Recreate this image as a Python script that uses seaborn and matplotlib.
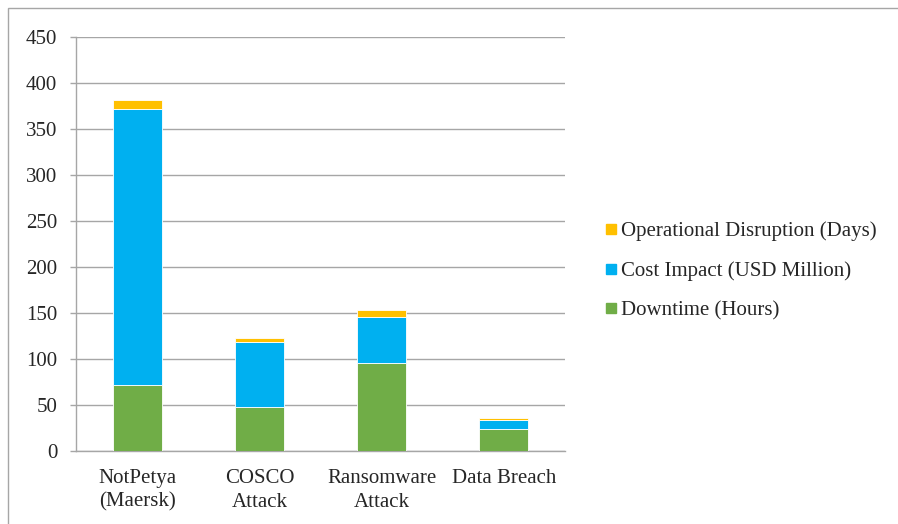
import matplotlib
matplotlib.use("Agg")
import matplotlib.pyplot as plt
from matplotlib.patches import Rectangle
from matplotlib.lines import Line2D
import numpy as np
import pandas as pd
import seaborn as sns

categories = ["NotPetya\n(Maersk)", "COSCO\nAttack", "Ransomware\nAttack", "Data Breach"]
downtime_hours = [72, 48, 96, 24]
cost_usd_million = [300, 70, 50, 10]
disruption_days = [10, 5, 7, 2]

series_names = ["Downtime (Hours)", "Cost Impact (USD Million)", "Operational Disruption (Days)"]
series_values = [downtime_hours, cost_usd_million, disruption_days]
series_colors = ["#70AD47", "#00B0F0", "#FFC000"]

sns.set_theme(style="white")
plt.rcParams["font.family"] = ["Liberation Serif", "DejaVu Serif"]

fig = plt.figure(figsize=(8.98, 5.24), dpi=100)
ax = fig.add_axes([76 / 898, 1 - 451 / 524, (565 - 76) / 898, (451 - 37) / 524])

grid_color = "#a6a6a6"
bottom = np.zeros(len(categories))
for name, vals, col in zip(series_names, series_values, series_colors):
    df = pd.DataFrame({"cat": categories, "val": vals})
    sns.barplot(data=df, x="cat", y="val", ax=ax, color=col, width=0.4,
                bottom=bottom, edgecolor="white", linewidth=0.6, saturation=1,
                zorder=3)
    bottom = bottom + np.array(vals)

ax.set_xlim(-0.5, len(categories) - 0.5)
ax.set_ylim(0, 450)
ax.set_yticks(np.arange(0, 451, 50))
ax.yaxis.grid(True, color=grid_color, linewidth=1.0, zorder=0)
ax.set_axisbelow(True)
ax.set_xlabel("")
ax.set_ylabel("")

for side in ["top", "right"]:
    ax.spines[side].set_visible(False)
for side in ["left", "bottom"]:
    ax.spines[side].set_color(grid_color)
    ax.spines[side].set_linewidth(1.0)

# category ticks sit on the boundaries between groups
ax.set_xticks(np.arange(len(categories)))
ax.set_xticklabels(categories, fontsize=15, linespacing=1.32)
ax.tick_params(axis="x", length=0, pad=13)
ax.set_xticks(np.arange(0.5, len(categories) - 0.5, 1), minor=True)
ax.tick_params(axis="x", which="minor", length=4.5, width=1, color=grid_color, direction="out")
ax.tick_params(axis="y", length=4.5, width=1, color=grid_color, direction="out",
               labelsize=15, pad=9, left=True)

handles = [Line2D([0], [0], marker="s", linestyle="none", markersize=7.5,
                  markerfacecolor=c, markeredgecolor=c) for c in series_colors]
leg = fig.legend(handles[::-1], series_names[::-1], loc="center left",
                 bbox_to_anchor=(596 / 898, 1 - 271 / 524), frameon=False,
                 fontsize=15, handlelength=0.6, handletextpad=0.2,
                 labelspacing=0.97, borderaxespad=0)

# thin frame around the chart area, open on the right and bottom edges
fig.patches.append(Rectangle((8 / 898, -10 / 524), 900 / 898, 526 / 524,
                             transform=fig.transFigure, fill=False,
                             edgecolor="#a6a6a6", linewidth=1.0))

fig.savefig("out.png", dpi=100)
